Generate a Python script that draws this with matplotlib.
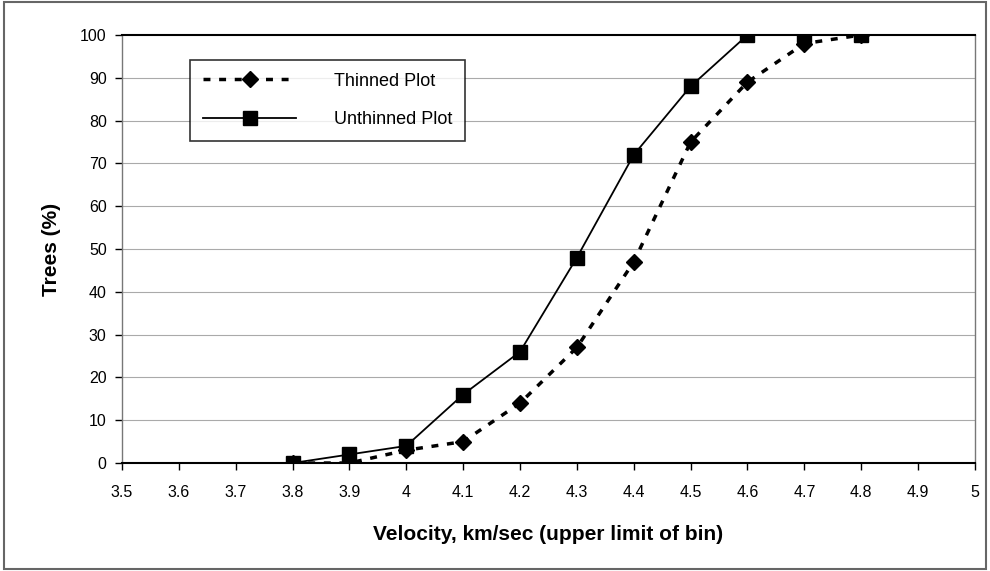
import numpy as np
import matplotlib
matplotlib.use("Agg")
import matplotlib.pyplot as plt

plt.rcParams['font.family'] = ['Liberation Sans', 'DejaVu Sans']

# Data
velocity = [3.8, 3.9, 4.0, 4.1, 4.2, 4.3, 4.4, 4.5, 4.6, 4.7, 4.8]
thinned = [0, 0, 3, 5, 14, 27, 47, 75, 89, 98, 100]
unthinned = [0, 2, 4, 16, 26, 48, 72, 88, 100, 100, 100]

x_ticks = [3.5, 3.6, 3.7, 3.8, 3.9, 4.0, 4.1, 4.2, 4.3, 4.4, 4.5, 4.6, 4.7, 4.8, 4.9, 5.0]
x_tick_labels = ["3.5", "3.6", "3.7", "3.8", "3.9", "4", "4.1", "4.2", "4.3",
                 "4.4", "4.5", "4.6", "4.7", "4.8", "4.9", "5"]
y_ticks = list(range(0, 101, 10))

fig = plt.figure(figsize=(9.9, 5.71), dpi=100)
ax = fig.add_axes([0.1232, 0.1891, 0.8616, 0.7496])

# outer frame around the whole picture
fig.patches.append(plt.Rectangle((0.004, 0.004), 0.992, 0.992, transform=fig.transFigure,
                                 fill=False, edgecolor='#666666', linewidth=1.5))

for y in y_ticks[1:-1]:
    ax.axhline(y, color='#aaaaaa', linewidth=0.8, zorder=0)

ax.plot(velocity, thinned, linestyle=(0, (2, 2.5)), color='black', linewidth=2.5,
        marker='D', markersize=8, label='Thinned Plot', zorder=3)
ax.plot(velocity, unthinned, linestyle='-', color='black', linewidth=1.3,
        marker='s', markersize=10.5, label='Unthinned Plot', zorder=4)

ax.set_xlim(3.5, 5.0)
ax.set_ylim(0, 100)
ax.set_xticks(x_ticks)
ax.set_xticklabels(x_tick_labels)
ax.set_yticks(y_ticks)
ax.tick_params(axis='both', direction='out', length=5, width=1, labelsize=11.5, pad=6, colors='black')
ax.tick_params(axis='x', pad=11)

for side in ['left', 'right', 'top', 'bottom']:
    ax.spines[side].set_color('#777777')
    ax.spines[side].set_linewidth(1)
ax.spines['top'].set_color('black')
ax.spines['top'].set_linewidth(1.5)
ax.spines['bottom'].set_color('black')
ax.spines['bottom'].set_linewidth(1.5)

ax.set_xlabel('Velocity, km/sec (upper limit of bin)', fontsize=15, fontweight='bold', labelpad=18)
ax.set_ylabel('Trees (%)', fontsize=15, fontweight='bold', labelpad=14)

leg = ax.legend(loc='upper left', bbox_to_anchor=(0.0797, 0.9416), borderaxespad=0,
                fontsize=13, frameon=True, fancybox=False, edgecolor='black',
                borderpad=0.7, labelspacing=1.2, handlelength=5.2, handletextpad=2.1)
leg.get_frame().set_linewidth(1.2)

fig.savefig('out.png', dpi=100)
